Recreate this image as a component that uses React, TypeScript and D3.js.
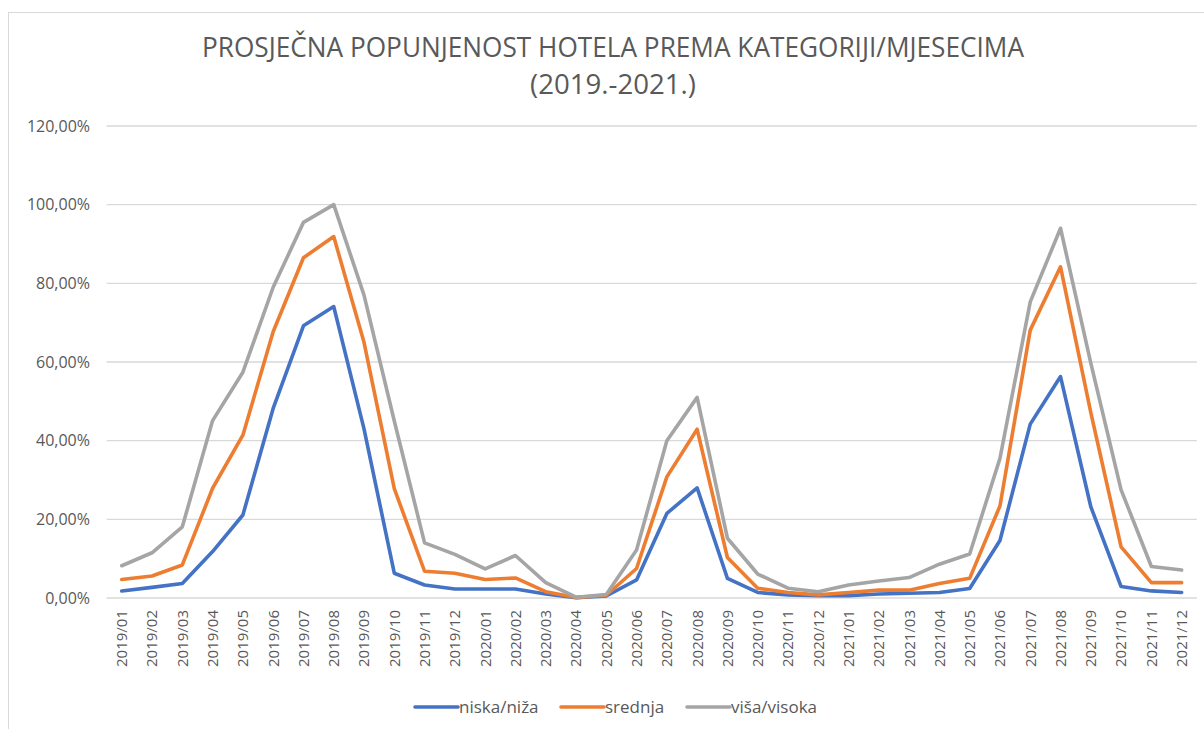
import React from "react";
import * as d3 from "d3";

const months = [
  "2019/01","2019/02","2019/03","2019/04","2019/05","2019/06","2019/07","2019/08","2019/09","2019/10","2019/11","2019/12",
  "2020/01","2020/02","2020/03","2020/04","2020/05","2020/06","2020/07","2020/08","2020/09","2020/10","2020/11","2020/12",
  "2021/01","2021/02","2021/03","2021/04","2021/05","2021/06","2021/07","2021/08","2021/09","2021/10","2021/11","2021/12",
];

const niskaNiza = [
  1.8, 2.7, 3.7, 11.8, 21.1, 48.2, 69.2, 74.1, 43.0, 6.3, 3.3, 2.3,
  2.3, 2.3, 1.0, 0.1, 0.5, 4.6, 21.5, 28.0, 5.0, 1.4, 0.8, 0.6,
  0.6, 1.0, 1.2, 1.4, 2.4, 14.6, 44.2, 56.3, 23.2, 2.9, 1.8, 1.4,
];

const srednja = [
  4.7, 5.6, 8.4, 27.9, 41.4, 67.7, 86.5, 91.9, 65.0, 27.8, 6.8, 6.3,
  4.7, 5.1, 1.6, 0.1, 0.7, 7.5, 30.8, 42.9, 10.3, 2.5, 1.4, 0.8,
  1.4, 2.0, 2.0, 3.7, 5.0, 23.4, 68.1, 84.2, 47.1, 13.0, 3.9, 3.9,
];

const visaVisoka = [
  8.2, 11.5, 18.1, 45.1, 57.4, 79.0, 95.5, 100.0, 77.0, 45.0, 14.0, 11.1,
  7.4, 10.8, 3.9, 0.2, 0.9, 12.2, 40.0, 51.0, 15.2, 6.1, 2.5, 1.6,
  3.3, 4.3, 5.2, 8.6, 11.2, 35.5, 75.3, 94.0, 59.7, 27.5, 8.0, 7.1,
];

const seriesNames = ["niska/niža", "srednja", "viša/visoka"];
const seriesColors = ["#4472C4", "#ED7D31", "#A5A5A5"];
const yTicks = [0, 20, 40, 60, 80, 100, 120];
const titleLines = ["PROSJEČNA POPUNJENOST HOTELA PREMA KATEGORIJI/MJESECIMA", "(2019.-2021.)"];

const W = 1204;
const H = 729;
const plot = { left: 106.6, right: 1196.8, top: 126, bottom: 598 };
const legendX = [415, 561, 687];
const legendY = 707;
const legendLine = 43;

export default function App() {
  const x = d3.scalePoint<string>().domain(months).range([plot.left, plot.right]).padding(0.5);
  const y = d3.scaleLinear().domain([0, 120]).range([plot.bottom, plot.top]);
  const line = d3
    .line<number>()
    .x((_, i) => x(months[i]) as number)
    .y((d) => y(d));
  const data = [niskaNiza, srednja, visaVisoka];
  const fmt = (v: number) => v.toFixed(2).replace(".", ",") + "%";
  const font = "'Open Sans', 'Liberation Sans', sans-serif";

  return (
    <div style={{ position: "fixed", left: 0, top: 0 }}>
      <svg width={W} height={H} style={{ display: "block", background: "#fff" }}>
        <rect x={8.5} y={12.5} width={W} height={H} fill="#fff" stroke="#D9D9D9" strokeWidth={1} />
        <text
          x={613}
          y={57}
          textAnchor="middle"
          fontFamily="'Liberation Sans Narrow', 'Open Sans', sans-serif"
          fontSize={27}
          fill="#595959"
          textLength={822}
          lengthAdjust="spacingAndGlyphs"
        >
          {titleLines[0]}
        </text>
        <text
          x={613}
          y={94}
          textAnchor="middle"
          fontFamily="'Liberation Sans Narrow', 'Open Sans', sans-serif"
          fontSize={27}
          fill="#595959"
          textLength={166}
          lengthAdjust="spacingAndGlyphs"
        >
          {titleLines[1]}
        </text>

        {yTicks.map((t) => (
          <g key={t}>
            <line x1={plot.left} x2={plot.right} y1={y(t)} y2={y(t)} stroke="#D9D9D9" strokeWidth={1.3} />
            <text x={90} y={y(t)} dy="0.35em" textAnchor="end" fontFamily={font} fontSize={16} fill="#595959">
              {fmt(t)}
            </text>
          </g>
        ))}

        {months.map((m) => (
          <text
            key={m}
            transform={`translate(${x(m)},${610}) rotate(-90)`}
            dy="0.36em"
            textAnchor="end"
            fontFamily={font}
            fontSize={15}
            fill="#595959"
          >
            {m}
          </text>
        ))}

        {data.map((d, i) => (
          <path
            key={seriesNames[i]}
            d={line(d) || ""}
            fill="none"
            stroke={seriesColors[i]}
            strokeWidth={3.6}
            strokeLinejoin="round"
            strokeLinecap="round"
          />
        ))}

        {seriesNames.map((n, i) => (
          <g key={n}>
            <line
              x1={legendX[i]}
              x2={legendX[i] + legendLine}
              y1={legendY}
              y2={legendY}
              stroke={seriesColors[i]}
              strokeWidth={3.6}
              strokeLinecap="round"
            />
            <text x={legendX[i] + legendLine + 1} y={legendY} dy="0.35em" fontFamily={font} fontSize={17} fill="#595959">
              {n}
            </text>
          </g>
        ))}
      </svg>
    </div>
  );
}
